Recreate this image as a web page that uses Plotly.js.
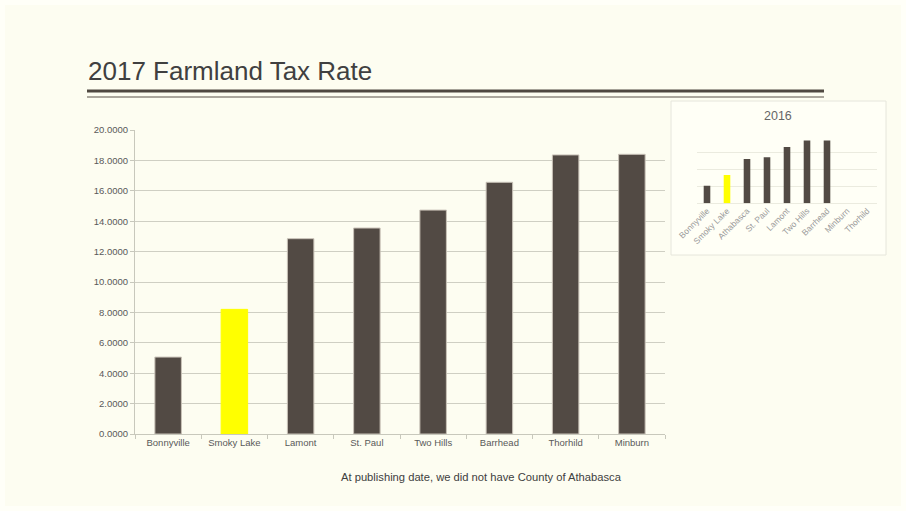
<!DOCTYPE html>
<html>
<head>
<meta charset="utf-8">
<script src="https://cdn.plot.ly/plotly-3.0.1.min.js"></script>
<style>
html,body{margin:0;padding:0;background:#fffff8;}
#chart{width:906px;height:511px;}
</style>
</head>
<body>
<div id="chart"></div>
<script>
// 2017 data (main chart)
const categories2017 = ["Bonnyville", "Smoky Lake", "Lamont", "St. Paul", "Two Hills", "Barrhead", "Thorhild", "Minburn"];
const rates2017 = [5.06, 8.2, 12.85, 13.55, 14.73, 16.56, 18.36, 18.40];
const colors2017 = ["#524a44", "#ffff00", "#524a44", "#524a44", "#524a44", "#524a44", "#524a44", "#524a44"];
const outline2017 = ["#c9c2b8", "#ffff00", "#c9c2b8", "#c9c2b8", "#c9c2b8", "#c9c2b8", "#c9c2b8", "#c9c2b8"];

// 2016 data (inset chart)
const categories2016 = ["Bonnyville", "Smoky Lake", "Athabasca", "St. Paul", "Lamont", "Two Hills", "Barrhead", "Minburn", "Thorhild"];
const rates2016 = [5.15, 8.3, 12.95, 13.45, 16.5, 18.4, 18.4, null, null];
const colors2016 = ["#524a44", "#ffff00", "#524a44", "#524a44", "#524a44", "#524a44", "#524a44", "#524a44", "#524a44"];

const yTicks = [0, 2, 4, 6, 8, 10, 12, 14, 16, 18, 20];

const W = 906, H = 511;
const M = {l: 135, r: 29, t: 130, b: 77};
const PW = W - M.l - M.r, PH = H - M.t - M.b;
const px = x => (x - M.l) / PW;
const py = y => (H - M.b - y) / PH;

const traces = [
  {
    type: "bar", x: categories2017, y: rates2017, xaxis: "x", yaxis: "y",
    width: 0.4,
    marker: {color: colors2017, line: {color: outline2017, width: 1}},
    hoverinfo: "x+y", showlegend: false
  },
  {
    type: "bar", x: categories2016, y: rates2016, xaxis: "x2", yaxis: "y2",
    width: 0.33,
    marker: {color: colors2016, line: {width: 0}},
    hoverinfo: "x+y", showlegend: false
  }
];

const layout = {
  width: W, height: H,
  margin: M,
  paper_bgcolor: "#fffff8",
  plot_bgcolor: "rgba(0,0,0,0)",
  font: {family: "Liberation Sans, Arial, sans-serif", color: "#595959"},
  showlegend: false,
  xaxis: {
    domain: [0, 530 / PW],
    type: "category",
    showgrid: false,
    showline: true, linecolor: "#c8c8bc", linewidth: 1,
    ticks: "outside", tickson: "boundaries", ticklen: 4, tickcolor: "#c8c8bc",
    tickfont: {size: 9.5, color: "#595959"},
    fixedrange: true
  },
  yaxis: {
    domain: [0, 1],
    range: [0, 20],
    tickvals: yTicks,
    tickformat: ".4f",
    showgrid: true, gridcolor: "#cfcfc3", gridwidth: 1,
    showline: true, linecolor: "#c8c8bc", linewidth: 1,
    ticks: "outside", ticklen: 4, tickcolor: "#c8c8bc",
    tickfont: {size: 9.5, color: "#595959"},
    zeroline: false,
    fixedrange: true
  },
  xaxis2: {
    domain: [px(697), px(877)],
    anchor: "y2",
    type: "category",
    showgrid: false, showline: false, ticks: "",
    tickangle: -45,
    tickfont: {size: 8.5, color: "#999999"},
    fixedrange: true
  },
  yaxis2: {
    domain: [py(203.3), py(135)],
    anchor: "x2",
    range: [0, 20],
    dtick: 5,
    showgrid: true, gridcolor: "#ebebdf", gridwidth: 1,
    showticklabels: false, showline: false, zeroline: true, zerolinecolor: "#ebebdf",
    fixedrange: true
  },
  shapes: [
    {type: "rect", xref: "paper", yref: "paper", layer: "below",
     x0: px(5), x1: px(901), y0: py(506), y1: py(5),
     fillcolor: "#fdfdf1", line: {width: 0}},
    {type: "rect", xref: "paper", yref: "paper", layer: "below",
     x0: px(671), x1: px(886), y0: py(255), y1: py(101),
     fillcolor: "#fffff6", line: {color: "#e6e6dc", width: 1}},
    {type: "line", xref: "paper", yref: "paper",
     x0: px(87), x1: px(824), y0: py(91), y1: py(91),
     line: {color: "#4f4841", width: 3}},
    {type: "line", xref: "paper", yref: "paper",
     x0: px(87), x1: px(824), y0: py(97), y1: py(97),
     line: {color: "#8f8a80", width: 1.5}}
  ],
  annotations: [
    {text: "2017 Farmland Tax Rate", xref: "paper", yref: "paper",
     x: px(86), y: py(71), xanchor: "left", yanchor: "middle", showarrow: false,
     font: {size: 26, color: "#404040", family: "Liberation Sans, Arial, sans-serif"}},
    {text: "2016", xref: "paper", yref: "paper",
     x: px(778), y: py(116), xanchor: "center", yanchor: "middle", showarrow: false,
     font: {size: 12.5, color: "#666666"}},
    {text: "At publishing date, we did not have County of Athabasca", xref: "paper", yref: "paper",
     x: px(481), y: py(477), xanchor: "center", yanchor: "middle", showarrow: false,
     font: {size: 11.2, color: "#404040"}}
  ]
};

Plotly.newPlot("chart", traces, layout, {displayModeBar: false, staticPlot: true});
</script>
</body>
</html>
